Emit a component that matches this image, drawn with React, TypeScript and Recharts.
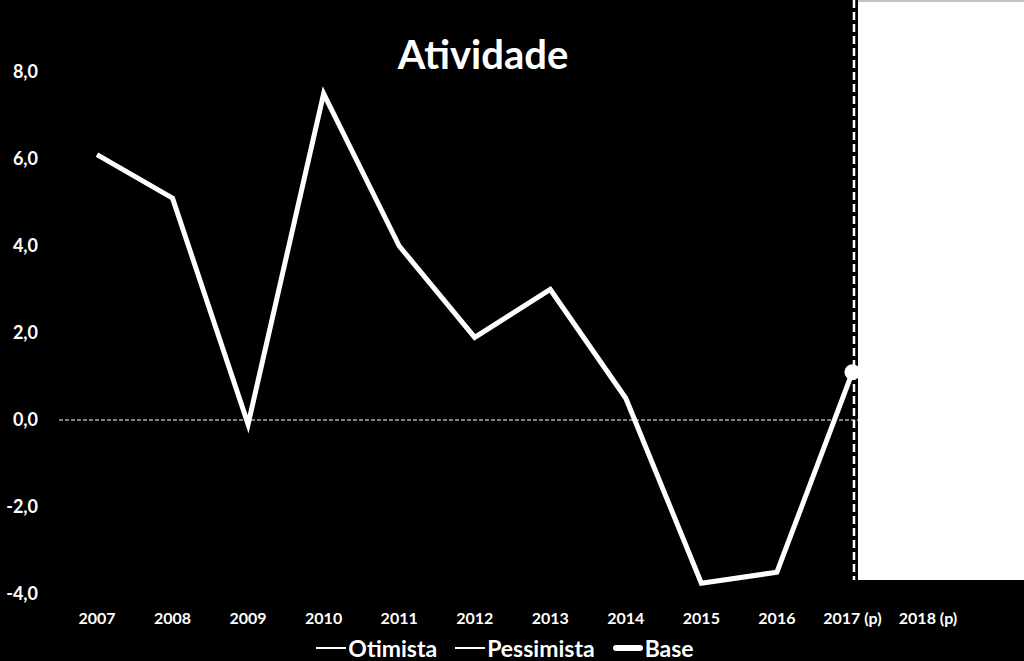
import React from "react";
import { LineChart, Line, XAxis, YAxis, Legend, ReferenceLine } from "recharts";

const years = ["2007", "2008", "2009", "2010", "2011", "2012", "2013", "2014", "2015", "2016", "2017 (p)", "2018 (p)"];
const baseValues = [6.1, 5.1, -0.1, 7.5, 4.0, 1.9, 3.0, 0.5, -3.75, -3.5, 1.1, null];
const otimistaValues = [null, null, null, null, null, null, null, null, null, null, 1.1, null];
const pessimistaValues = [null, null, null, null, null, null, null, null, null, null, 1.1, null];
const yTicks = [-4, -2, 0, 2, 4, 6, 8];
const seriesOrder = ["Otimista", "Pessimista", "Base"];

const data = years.map((year, i) => ({
  year,
  Otimista: otimistaValues[i],
  Pessimista: pessimistaValues[i],
  Base: baseValues[i],
}));

const FONT = "Lato, 'Open Sans', sans-serif";

const fmt = (v: number) => v.toFixed(1).replace(".", ",");

// only the last real point of the base series gets a dot
const BaseDot = (props: any) => {
  const { cx, cy, index } = props;
  if (index !== 10 || cx == null || cy == null) return <g key={`d${index}`} />;
  return <circle key={`d${index}`} cx={cx} cy={cy} r={8} fill="#fff" />;
};

const LegendContent = (props: any) => {
  const items = [...(props.payload || [])].sort(
    (a: any, b: any) => seriesOrder.indexOf(a.value) - seriesOrder.indexOf(b.value)
  );
  return (
    <div
      style={{
        width: 1024,
        height: 27,
        display: "flex",
        justifyContent: "center",
        alignItems: "center",
        gap: 18,
        paddingRight: 14,
        boxSizing: "border-box",
        fontFamily: FONT,
        fontWeight: 700,
        fontSize: 23,
        color: "#fff",
      }}
    >
      {items.map((it: any) => {
        const thick = it.value === "Base";
        return (
          <span key={it.value} style={{ display: "flex", alignItems: "center" }}>
            <span
              style={{
                display: "inline-block",
                width: 30,
                height: thick ? 6 : 2,
                borderRadius: thick ? 3 : 0,
                background: "#fff",
                marginRight: 2,
              }}
            />
            {it.value}
          </span>
        );
      })}
    </div>
  );
};

export default function App() {
  return (
    <div style={{ position: "absolute", left: 0, top: 0, width: 1024, height: 661, background: "#000", overflow: "hidden" }}>
      <LineChart width={1024} height={661} data={data} margin={{ top: 72, right: 58, left: 0, bottom: 0 }}>
        <XAxis
          dataKey="year"
          height={40}
          padding={{ left: 38, right: 38 }}
          axisLine={false}
          tickLine={false}
          tickMargin={13}
          interval={0}
          tick={{ fill: "#fff", fontSize: 16, fontWeight: 700, fontFamily: FONT }}
        />
        <YAxis
          width={59}
          domain={[-4, 8]}
          ticks={yTicks}
          axisLine={false}
          tickLine={false}
          tickMargin={15}
          tickFormatter={fmt}
          tick={{ fill: "#fff", fontSize: 18, fontWeight: 700, fontFamily: FONT }}
        />
        <ReferenceLine y={0} stroke="#fff" strokeWidth={1} strokeDasharray="4 2" />
        <Legend verticalAlign="bottom" content={<LegendContent />} />
        <Line dataKey="Otimista" stroke="#fff" strokeWidth={2} dot={false} isAnimationActive={false} />
        <Line dataKey="Pessimista" stroke="#fff" strokeWidth={2} dot={false} isAnimationActive={false} />
        <Line dataKey="Base" stroke="#fff" strokeWidth={5} dot={<BaseDot />} activeDot={false} isAnimationActive={false} />
      </LineChart>
      <div
        style={{
          position: "absolute",
          left: 383,
          top: 28,
          width: 200,
          textAlign: "center",
          color: "#fff",
          fontFamily: FONT,
          fontWeight: 700,
          fontSize: 40,
          lineHeight: "52px",
        }}
      >
        Atividade
      </div>
      <svg style={{ position: "absolute", left: 0, top: 0 }} width={1024} height={661}>
        <rect x={858} y={0} width={166} height={580} fill="#fff" />
        <line x1={858} y1={1} x2={1024} y2={1} stroke="#888" strokeWidth={1} />
        <line x1={854} y1={0} x2={854} y2={580} stroke="#fff" strokeWidth={2.5} strokeDasharray="8 4" />
      </svg>
    </div>
  );
}
